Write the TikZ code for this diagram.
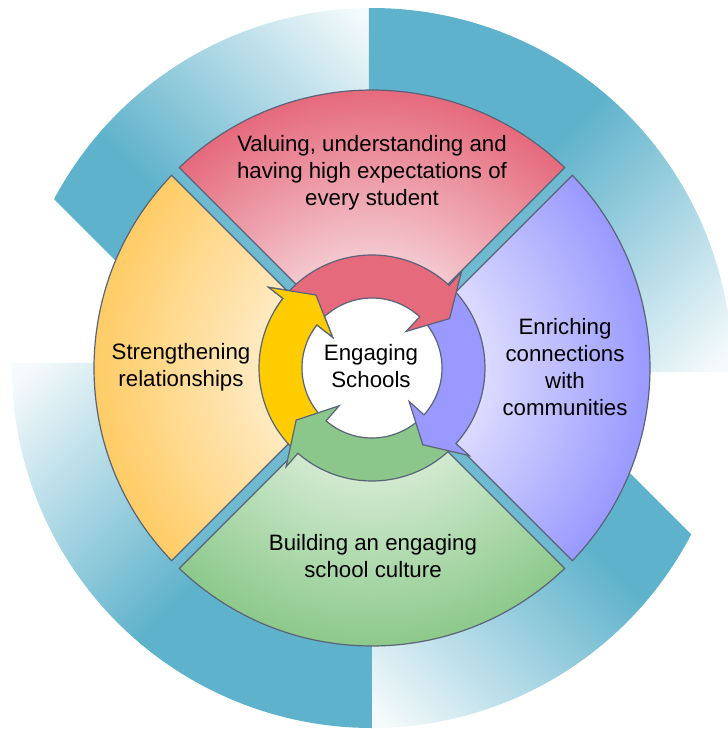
\documentclass[tikz,border=0pt]{standalone}
\usepackage{fontspec}
\setmainfont{Liberation Sans}

\definecolor{ringblue}{RGB}{94,178,203}
\colorlet{ringpale}{ringblue!6}
\definecolor{edgegray}{RGB}{90,99,120}
\definecolor{reddark}{RGB}{229,106,124}
\definecolor{redlite}{RGB}{245,207,213}
\definecolor{lilacdark}{RGB}{153,153,255}
\definecolor{lilaclite}{RGB}{224,224,255}
\definecolor{greendark}{RGB}{141,201,139}
\definecolor{greenlite}{RGB}{214,236,213}
\definecolor{golddark}{RGB}{255,204,102}
\definecolor{goldlite}{RGB}{255,236,200}
\definecolor{arrowred}{RGB}{229,106,124}
\definecolor{arrowlilac}{RGB}{153,153,255}
\definecolor{arrowgreen}{RGB}{139,198,138}
\definecolor{arrowgold}{RGB}{255,204,0}
\colorlet{seglight}{white}
\colorlet{segdark}{black}

\pgfdeclarehorizontalshading{ringfade}{100bp}{color(0bp)=(ringblue); color(48bp)=(ringblue); color(67bp)=(ringpale); color(100bp)=(white)}
\pgfdeclareradialshading[seglight,segdark]{segshade}{\pgfpoint{0bp}{0bp}}{color(0bp)=(seglight); color(9bp)=(seglight); color(25bp)=(segdark); color(50bp)=(segdark)}

\tikzset{
  rim/.style={draw=edgegray, line width=0.9pt},
  blurb/.style={font=\fontsize{16.7}{20.2}\selectfont, align=center, text=black, inner sep=0pt}
}

% quarter segment round the mid angle #1
\newcommand{\segpath}[1]{({#1-43.87}:278) arc[start angle={#1-43.87}, end angle={#1+43.87}, radius=278]
  -- ({#1+41.85}:100) arc[start angle={#1+41.85}, end angle={#1-41.85}, radius=100] -- cycle}
% ring arrow: #1 barb angle, #2 tail angle
\newcommand{\ringarrow}[2]{(#2:113) arc[start angle=#2, end angle=#1, radius=113] -- (#1:131)
  -- ({#1-14.5}:92) -- (#1:50) -- (#1:70) arc[start angle=#1, end angle=#2, radius=70] -- cycle}
\newcommand{\fadepiece}[2]{\begin{scope}
    \clip #1;
    \shade[shading=ringfade, shading angle=#2] (-360,-360) rectangle (360,360);
  \end{scope}}

\begin{document}
\begin{tikzpicture}[x=0.75pt, y=0.75pt]
  \useasboundingbox (-372,-361) rectangle (356,368);

  % outer band
  \fadepiece{(0,0) -- (90:360) arc[start angle=90, end angle=152.02, radius=360] -- (-149,0) -- cycle}{45}
  \fadepiece{(0,0) -- (-90:360) arc[start angle=-90, end angle=-27.51, radius=360] -- (153,0) -- cycle}{225}
  \fadepiece{(-3,-4) -- (-0.64:360) arc[start angle=-0.64, end angle=90.48, radius=360] -- cycle}{-45}
  \fadepiece{(0,5) -- (179.2:360) arc[start angle=179.2, end angle=270, radius=360] -- cycle}{135}

  % segments
  \foreach \mid/\lite/\dark in {90/redlite/reddark, 0/lilaclite/lilacdark,
                                -90/greenlite/greendark, 180/goldlite/golddark} {
    \begin{scope}
      \clip \segpath{\mid};
      \colorlet{seglight}{\lite}\colorlet{segdark}{\dark}
      \shade[shading=segshade] (0,0) circle (278);
    \end{scope}
    \draw[rim] \segpath{\mid};
  }

  \fill[white] (0,0) circle (70);

  % cycle of arrows
  \foreach \barb/\tail/\col in {142/226/arrowgold, -131/-45/arrowgreen,
                                -42/44/arrowlilac, 47/139/arrowred}
    \filldraw[rim, fill=\col] \ringarrow{\barb}{\tail};
  \begin{scope}
    \clip (0,0) -- (118:160) arc[start angle=118, end angle=150, radius=160] -- cycle;
    \filldraw[rim, fill=arrowgold] \ringarrow{142}{226};
  \end{scope}

  \begin{scope}[every node/.style={blurb}]
    \node (valuetxt) at (0,195) {Valuing, understanding and\\having high expectations of\\every student};
    \node (linktxt) at (193,1) {Enriching\\connections\\with\\communities};
    \node (culturetxt) at (1,-188) {Building an engaging\\school culture};
    \node (bondtxt) at (-191,1) {Strengthening\\relationships};
    \node (hub) at (-1,2) {Engaging\\Schools};
  \end{scope}
\end{tikzpicture}
\end{document}
